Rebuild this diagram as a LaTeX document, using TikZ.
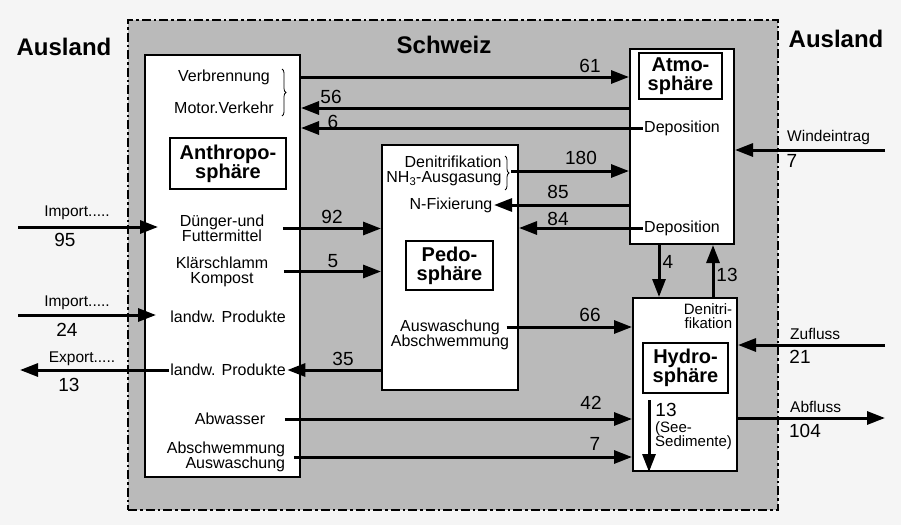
\documentclass[tikz,border=0pt]{standalone}
\usepackage{fontspec}
\setmainfont{Liberation Sans}
\usetikzlibrary{arrows.meta, positioning, decorations.pathreplacing}

\begin{document}
\begin{tikzpicture}[
  x=1pt, y=-1pt,
  lbl/.style={font=\fontsize{16}{15}\selectfont, align=center, inner sep=1.5pt},
  sml/.style={font=\fontsize{15}{14.5}\selectfont, inner sep=0pt},
  ext/.style={font=\fontsize{15.5}{16}\selectfont, inner sep=1pt},
  num/.style={font=\fontsize{19}{20}\selectfont, inner sep=1pt},
  ttl/.style={font=\bfseries\fontsize{24}{26}\selectfont},
  sphere/.style={draw, line width=2pt, fill=white, inner sep=0pt},
  tag/.style={draw, line width=1.6pt, fill=white, align=center, inner sep=0pt,
              font=\bfseries\fontsize{20}{19}\selectfont},
  brc/.style={line width=0.8pt, decorate, decoration={brace, amplitude=4pt}},
  arr/.style={line width=3pt, -{Triangle[length=18pt, width=13pt]}}
]
\useasboundingbox (0,0) rectangle (901,525);
\fill[black!4] (0,0) rectangle (901,525);

% Schweiz / Ausland
\node[draw, line width=2pt, fill=black!27,
      dash pattern=on 9pt off 3pt on 2.5pt off 3pt,
      minimum width=650pt, minimum height=490pt] (ch) at (453,265) {};
\node[ttl] (tCH) at (444,45) {Schweiz};
\node[ttl] (tAL) at (64,47) {Ausland};
\node[ttl] (tAR) at (836,39) {Ausland};

% Sphaeren
\node[sphere, minimum width=155pt, minimum height=422pt] (anthro) at (222.5,266) {};
\node[tag, minimum width=116pt, minimum height=51pt] (tAnthro) at (228,163.5) {Anthropo-\\sphäre};
\node[sphere, minimum width=104pt, minimum height=195pt] (atmo) at (682,146.5) {};
\node[tag, minimum width=83pt, minimum height=46pt] (tAtmo) at (680.5,76) {Atmo-\\sphäre};
\node[sphere, minimum width=136pt, minimum height=245pt] (pedo) at (450,267.5) {};
\node[tag, minimum width=87pt, minimum height=49pt] (tPedo) at (449.5,265.5) {Pedo-\\sphäre};
\node[sphere, minimum width=104pt, minimum height=173pt] (hydro) at (685,384.5) {};
\node[tag, minimum width=85pt, minimum height=50pt] (tHydro) at (685.5,368) {Hydro-\\sphäre};

% Anthroposphaere
\node[lbl] (verb) at (224,77) {Verbrennung};
\node[lbl] (motor) at (224,108) {Motor.Verkehr};
\draw[brc] (282,69) -- (282,116);
\node[lbl] (duenger) at (222,228.5) {Dünger-und\\Futtermittel};
\node[lbl] (klaer) at (222,271.5) {Klärschlamm\\Kompost};
\node[lbl] (landwI) at (228,317) {landw. Produkte};
\node[lbl] (landwE) at (228,370) {landw. Produkte};
\node[lbl] (abw) at (230,419) {Abwasser};
\node[lbl, align=right] (abschw) at (226,457) {Abschwemmung\\Auswaschung};

% Pedosphaere
\node[lbl, align=right] (denP) at (444,171) {Denitrifikation\\NH\textsubscript{3}-Ausgasung};
\draw[brc] (505,156) -- (505,190);
\coordinate (brP) at (511,171);
\node[lbl] (nfix) at (451,205) {N-Fixierung};
\node[lbl] (auswI) at (450,327) {Auswaschung};
\node[lbl] (auswII) at (450,342) {Abschwemmung};

% Atmosphaere, Hydrosphaere
\node[lbl] (depI) at (682,128) {Deposition};
\node[lbl] (depII) at (682,228) {Deposition};
\node[sml, align=right] (denH) at (708,316) {Denitri-\\fikation};
\node[num] (n13s) at (666,410) {13};
\node[sml, align=left, anchor=north west] (sed) at (655,421) {(See-\\Sedimente)};
\coordinate (sedtop) at ([xshift=-6pt,yshift=21pt]sed.north west);

% Ausland
\coordinate (impA) at (18,227);
\coordinate (impB) at (18,315);
\coordinate (expo) at (20,370);
\coordinate (wind) at (885,150);
\coordinate (zufl) at (885,345);
\coordinate (abfl) at (885,418);
\node[ext] (tImpA) at (77,213) {Import.....};
\node[num] (n95) at (65,240) {95};
\node[ext] (tImpB) at (77,303) {Import.....};
\node[num] (n24) at (67,330) {24};
\node[ext] (tExp) at (82,359) {Export.....};
\node[num] (n13e) at (69,385) {13};
\node[ext, anchor=west] (tWind) at (786,137) {Windeintrag};
\node[num] (n7w) at (792,161) {7};
\node[ext, anchor=west] (tZu) at (789,334) {Zufluss};
\node[num] (n21) at (800,357) {21};
\node[ext, anchor=west] (tAb) at (789,407) {Abfluss};
\node[num] (n104) at (805,431) {104};

% Fluesse
\node[num] (n61) at (590,66) {61};
\node[num] (n56) at (331,97) {56};
\node[num] (n6) at (333,122) {6};
\node[num] (n92) at (332,217) {92};
\node[num] (n5) at (333,261) {5};
\node[num] (n35) at (343,359) {35};
\node[num] (n180) at (581,158) {180};
\node[num] (n85) at (558,192) {85};
\node[num] (n84) at (558,219) {84};
\node[num] (n66) at (590,315) {66};
\node[num] (n42) at (591,403) {42};
\node[num] (n7) at (595,444) {7};
\node[num] (n4) at (668,262) {4};
\node[num] (n13u) at (727,275) {13};

\draw[arr] (anthro.east |- verb.center) -- (atmo.west |- verb.center);
\draw[arr] (atmo.west |- motor.center) -- (anthro.east |- motor.center);
\draw[arr] (depI.west) -- (anthro.east |- depI.west);
\draw[arr, shorten <=17pt] (duenger.east) -- (pedo.west |- duenger.east);
\draw[arr, shorten <=14pt] (klaer.east) -- (pedo.west |- klaer.east);
\draw[arr, shorten >=-14pt] (impA) -- (anthro.west |- impA);
\draw[arr, shorten >=-12pt] (impB) -- (anthro.west |- impB);
\draw[arr] (landwE.west) -- (expo);
\draw[arr] (pedo.west |- landwE.east) -- (landwE.east);
\draw[arr, shorten <=18pt] (abw.east) -- (hydro.west |- abw.east);
\draw[arr, shorten <=7pt] (abschw.east) -- (hydro.west |- abschw.east);
\draw[arr] (brP) -- (atmo.west |- brP);
\draw[arr] (atmo.west |- nfix.east) -- (nfix.east);
\draw[arr] (depII.west) -- (pedo.east |- depII.west);
\draw[arr, shorten <=5pt] (auswI.east) -- (hydro.west |- auswI.east);
\draw[arr] (wind) -- (atmo.east |- wind);
\draw[arr] (zufl) -- (hydro.east |- zufl);
\draw[arr] (hydro.east |- abfl) -- (abfl);
\draw[arr] ([xshift=-23pt]atmo.south) -- ([xshift=-26pt]hydro.north);
\draw[arr] ([xshift=28pt]hydro.north) -- ([xshift=31pt]atmo.south);
\draw[arr] (sedtop) -- (sedtop |- hydro.south);
\end{tikzpicture}
\end{document}
